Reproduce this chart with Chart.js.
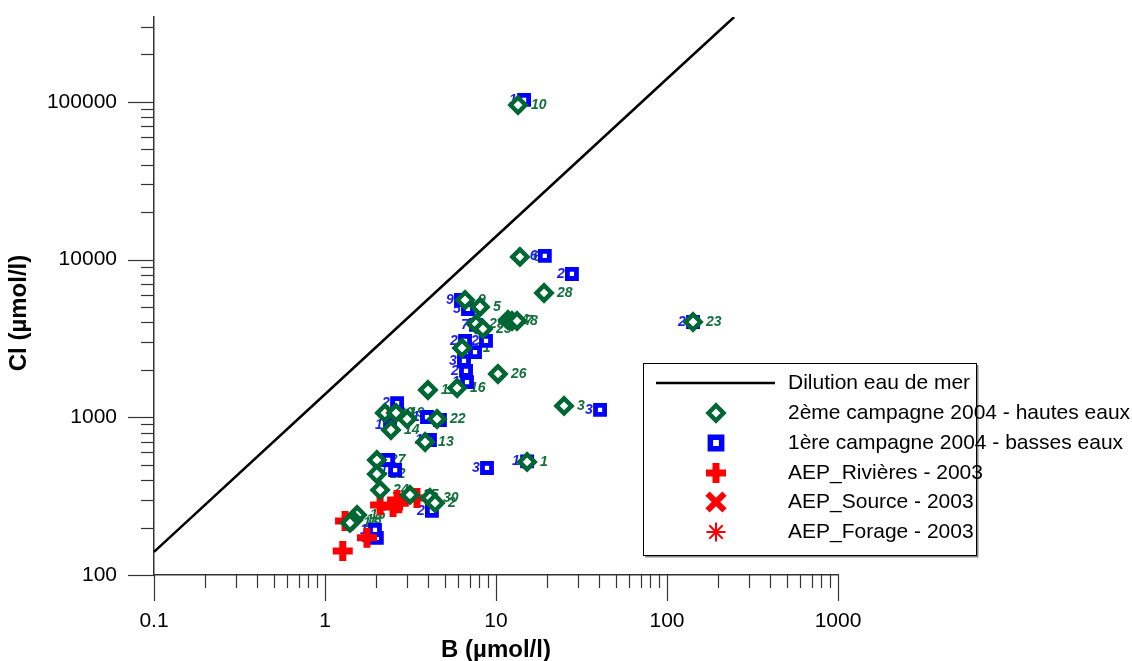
<!DOCTYPE html>
<html>
<head>
<meta charset="utf-8">
<script src="https://cdn.jsdelivr.net/npm/chart.js@4/dist/chart.umd.min.js"></script>
<style>
    body { margin: 0; background: #fff; }
</style>
</head>
<body>
<canvas id="chart" width="1132" height="661"></canvas>
<script>
// tick labels
const bTicks = ["0.1", "1", "10", "100", "1000"]
const clTicks = ["100", "1000", "10000", "100000"]

// dilution eau de mer
const seaB = [0.1, 1, 10, 100, 247]
const seaCl = [140, 1400, 14000, 140000, 345000]

// 2ème campagne 2004 - hautes eaux
const hautesB = [13.45, 13.8, 19.1, 6.59, 8.06, 7.64, 8.39, 11.75, 12.4, 13.27, 6.33, 10.27, 4.0, 5.92, 25.0, 15.2, 142,
    2.24, 2.6, 3.02, 2.43, 4.52, 3.85, 2.01, 2.01, 2.1, 3.14, 4.11, 4.4, 1.54, 1.46, 1.4]
const hautesCl = [95500, 10390, 6140, 5540, 5005, 3905, 3630, 4140, 4080, 4080, 2750, 1882, 1490, 1534, 1180, 521, 4020,
    1065, 1065, 975, 831, 975, 697, 536, 437, 346, 322, 308, 286, 240, 223, 214]
const hautesLabels = ["10", "6", "28", "9", "5", "29", "25", "4", "7", "8", "21", "26", "11", "16", "3", "1", "23",
    "20", "19", "17", "14", "22", "13", "27", "12", "24", "25", "30", "2", "15", "18", "16"]

// 1ère campagne 2004 - basses eaux
const bassesB = [14.6, 19.3, 27.8, 6.24, 6.86, 7.64, 8.74, 7.54, 6.59, 6.5, 6.68, 6.77, 2.64, 2.4, 3.95, 4.7, 4.11,
    2.34, 2.57, 8.86, 15.2, 40.6, 142, 4.22, 2.01, 1.96]
const bassesCl = [102800, 10540, 8100, 5540, 4860, 3850, 3050, 2590, 3050, 2280, 1970, 1670, 1230, 894, 1004, 961, 718,
    536, 463, 477, 525, 1113, 4020, 255, 172, 193]
const bassesLabels = ["10", "6", "28", "9", "5", "7", "21", "26", "29", "30", "25", "16", "20", "17", "19", "22", "13",
    "27", "12", "3", "1", "3", "23", "2", "18", "15"]

// AEP_Rivières - 2003
const riviereB = [1.27, 1.76, 1.31, 2.1, 2.5, 2.64, 3.45, 2.7]
const riviereCl = [142, 172, 220, 278, 270, 299, 308, 285]

const fontFamily = "'Liberation Sans', Arial, sans-serif"
const green = "#006633"
const blue = "#0000ff"
const red = "#ff0000"

function toPoints(xs, ys) {
    const pts = []
    for (let i = 0; i < xs.length; i++) {
        pts.push({ x: xs[i], y: ys[i] })
    }
    return pts
}

function tickText(value, list) {
    const s = String(+value.toPrecision(6))
    return list.includes(s) ? s : ""
}

function noPadding(scale) {
    scale.paddingTop = 0
    scale.paddingBottom = 0
    scale.paddingLeft = 0
    scale.paddingRight = 0
}

// minor / major tick marks outside the axes, plus the axis titles
const tickMarks = {
    id: "tickMarks",
    afterDraw(chart) {
        const ctx = chart.ctx
        const a = chart.chartArea
        ctx.save()
        ctx.strokeStyle = "#333"
        ctx.lineWidth = 1.2
        for (const id of ["x", "y"]) {
            const scale = chart.scales[id]
            scale.ticks.forEach((t) => {
                const exp = Math.floor(Math.log10(t.value) + 1e-9)
                const sig = t.value / Math.pow(10, exp)
                if (Math.abs(sig - Math.round(sig)) > 1e-6) return
                const len = Math.round(sig) === 1 ? 26 : 13
                const p = Math.round(scale.getPixelForValue(t.value)) + 0.5
                ctx.beginPath()
                if (id === "x") {
                    ctx.moveTo(p, a.bottom)
                    ctx.lineTo(p, a.bottom + len)
                } else {
                    ctx.moveTo(a.left, p)
                    ctx.lineTo(a.left - len, p)
                }
                ctx.stroke()
            })
        }
        ctx.fillStyle = "#000"
        ctx.font = "bold 24px " + fontFamily
        ctx.textAlign = "center"
        ctx.textBaseline = "middle"
        ctx.fillText("B (µmol/l)", (a.left + a.right) / 2, a.bottom + 75)
        // y axis title, a bit below the middle as in the original
        ctx.translate(19, a.bottom - 262)
        ctx.rotate(-Math.PI / 2)
        ctx.fillText("Cl (µmol/l)", 0, 0)
        ctx.restore()
    },
}

// sample numbers next to the points
const pointLabels = {
    id: "pointLabels",
    beforeDatasetsDraw(chart) {
        const ctx = chart.ctx
        ctx.save()
        ctx.font = "italic bold 14px " + fontFamily
        ctx.textBaseline = "middle"
        chart.data.datasets.forEach((ds, i) => {
            if (!ds.pointLabels) return
            const meta = chart.getDatasetMeta(i)
            meta.data.forEach((el, j) => {
                ctx.fillStyle = ds.labelColor
                const x = el.x + (ds.labelSide === "left" ? -15 : 13)
                ctx.textAlign = "left"
                ctx.fillText(ds.pointLabels[j], x, el.y)
            })
        })
        ctx.restore()
    },
}

function drawMarker(ctx, ds, x, y) {
    const r = ds.legendRadius || ds.pointRadius
    const bw = ds.legendBorder || ds.borderWidth
    ctx.save()
    ctx.strokeStyle = ds.borderColor
    ctx.fillStyle = ds.backgroundColor
    ctx.lineWidth = bw
    Chart.helpers.drawPoint(ctx, {
        pointStyle: ds.pointStyle,
        radius: r,
        borderWidth: bw,
        rotation: 0,
    }, x, y)
    ctx.restore()
}

// boxed legend inside the plot, as in the original
const boxLegend = {
    id: "boxLegend",
    afterDraw(chart) {
        const ctx = chart.ctx
        const a = chart.chartArea
        const left = a.right - 195
        const top = 363
        const w = 333
        const h = 192
        ctx.save()
        ctx.fillStyle = "#fff"
        ctx.fillRect(left, top, w, h)
        ctx.strokeStyle = "#888"
        ctx.lineWidth = 2
        ctx.beginPath()
        ctx.moveTo(left + 2, top + h + 1.5)
        ctx.lineTo(left + w + 1.5, top + h + 1.5)
        ctx.lineTo(left + w + 1.5, top + 2)
        ctx.stroke()
        ctx.strokeStyle = "#000"
        ctx.lineWidth = 1
        ctx.strokeRect(left + 0.5, top + 0.5, w, h)

        const rows = [20, 50, 80, 110, 139, 169]
        chart.data.datasets.forEach((ds, i) => {
            const y = top + rows[i]
            if (ds.showLine) {
                ctx.strokeStyle = "#000"
                ctx.lineWidth = 2.5
                ctx.beginPath()
                ctx.moveTo(left + 13, y)
                ctx.lineTo(left + 132, y)
                ctx.stroke()
            } else {
                drawMarker(ctx, ds, left + 73, y)
            }
            ctx.fillStyle = "#000"
            ctx.font = "21px " + fontFamily
            ctx.textBaseline = "middle"
            ctx.textAlign = "left"
            ctx.fillText(ds.label, left + 145, y)
        })
        ctx.restore()
    },
}

const canvas = document.getElementById("chart")
const myChart = new Chart(canvas, {
    type: "scatter",
    data: {
        datasets: [
            {
                label: "Dilution eau de mer",
                data: toPoints(seaB, seaCl),
                showLine: true,
                borderColor: "#000",
                backgroundColor: "#000",
                borderWidth: 2.5,
                pointRadius: 0,
                order: 4,
            },
            {
                label: "2ème campagne 2004 - hautes eaux",
                data: toPoints(hautesB, hautesCl),
                pointStyle: "rectRot",
                pointRadius: 7.5,
                borderWidth: 4.5,
                borderColor: green,
                backgroundColor: "#fff",
                pointLabels: hautesLabels,
                labelColor: "#12703d",
                labelSide: "right",
                order: 0,
            },
            {
                label: "1ère campagne 2004 - basses eaux",
                data: toPoints(bassesB, bassesCl),
                pointStyle: "rect",
                pointRadius: 6.4,
                borderWidth: 4.8,
                legendRadius: 8,
                legendBorder: 5.5,
                borderColor: blue,
                backgroundColor: "#fff",
                pointLabels: bassesLabels,
                labelColor: "#1a1aff",
                labelSide: "left",
                order: 2,
            },
            {
                label: "AEP_Rivières - 2003",
                data: toPoints(riviereB, riviereCl),
                pointStyle: "cross",
                pointRadius: 10,
                borderWidth: 7,
                borderColor: red,
                backgroundColor: red,
                order: 1,
            },
            {
                label: "AEP_Source - 2003",
                data: [],
                pointStyle: "crossRot",
                pointRadius: 12,
                borderWidth: 6,
                borderColor: red,
                backgroundColor: red,
                order: 1,
            },
            {
                label: "AEP_Forage - 2003",
                data: [],
                pointStyle: "star",
                pointRadius: 9.5,
                borderWidth: 2,
                borderColor: red,
                backgroundColor: red,
                order: 1,
            },
        ],
    },
    options: {
        responsive: false,
        devicePixelRatio: 1,
        animation: false,
        layout: {
            padding: { left: 0, top: 17, right: 294, bottom: 0 },
        },
        plugins: {
            legend: { display: false },
            tooltip: { enabled: false },
        },
        scales: {
            x: {
                type: "logarithmic",
                position: "bottom",
                min: 0.1,
                max: 1000,
                afterFit: (scale) => { scale.height = 86; noPadding(scale) },
                grid: { display: false, drawTicks: false },
                border: { display: true, color: "#333", width: 1.5 },
                ticks: {
                    autoSkip: false,
                    maxRotation: 0,
                    padding: 34,
                    color: "#000",
                    font: { family: fontFamily, size: 21 },
                    callback: (v) => tickText(v, bTicks),
                },
            },
            y: {
                type: "logarithmic",
                position: "left",
                min: 100,
                max: 345000,
                afterFit: (scale) => { scale.width = 154; noPadding(scale) },
                grid: { display: false, drawTicks: false },
                border: { display: true, color: "#333", width: 1.5 },
                ticks: {
                    autoSkip: false,
                    padding: 37,
                    color: "#000",
                    font: { family: fontFamily, size: 21 },
                    callback: (v) => tickText(v, clTicks),
                },
            },
        },
    },
    plugins: [tickMarks, pointLabels, boxLegend],
})
</script>
</body>
</html>
